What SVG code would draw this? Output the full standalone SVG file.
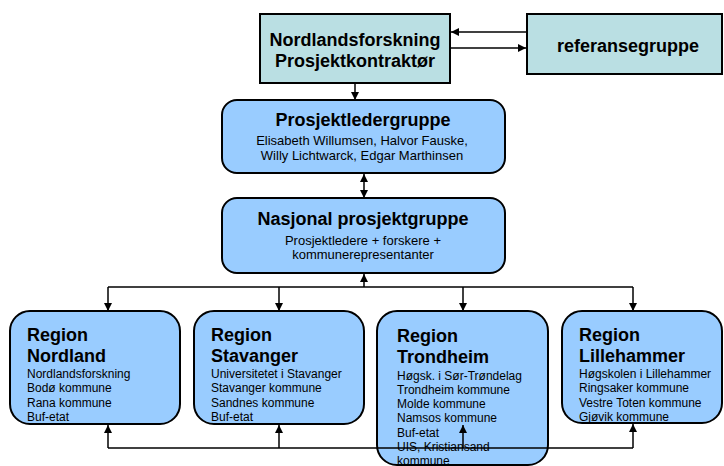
<svg xmlns="http://www.w3.org/2000/svg" width="724" height="466" viewBox="0 0 724 466">
<defs>
<style>
.top{fill:#BADFE3;stroke:#000;stroke-width:2}
.rnd{fill:#99CCFF;stroke:#000;stroke-width:2}
.t{font-family:"Liberation Sans",Arial,sans-serif;fill:#000}
.b{font-weight:bold;font-size:18px}
.s{font-size:13px}
.r{font-size:12px}
.ln{fill:none;stroke:#000;stroke-width:1.5}
</style>
<marker id="ah" viewBox="0 0 10 10" refX="10" refY="5" markerWidth="8" markerHeight="8" markerUnits="userSpaceOnUse" orient="auto-start-reverse">
<path d="M0,0 L10,5 L0,10 z" fill="#000"/>
</marker>
</defs>
<rect width="724" height="466" fill="#fff"/>

<g id="connectors">
<line class="ln" x1="527" y1="32" x2="451" y2="32" marker-end="url(#ah)"/>
<line class="ln" x1="450" y1="48" x2="526" y2="48" marker-end="url(#ah)"/>
<line class="ln" x1="355" y1="83" x2="355" y2="100" marker-end="url(#ah)"/>
<line class="ln" x1="364" y1="174" x2="364" y2="198" marker-start="url(#ah)" marker-end="url(#ah)"/>
<line class="ln" x1="364" y1="287" x2="364" y2="274" marker-end="url(#ah)"/>
<polyline class="ln" points="108,287 633,287"/>
<line class="ln" x1="108" y1="287" x2="108" y2="311" marker-end="url(#ah)"/>
<line class="ln" x1="279" y1="287" x2="279" y2="311" marker-end="url(#ah)"/>
<line class="ln" x1="463" y1="287" x2="463" y2="311" marker-end="url(#ah)"/>
<line class="ln" x1="633" y1="287" x2="633" y2="311" marker-end="url(#ah)"/>
</g>

<g id="nordlandsforskning">
<rect class="top" x="260" y="14" width="190" height="69"/>
<text class="t b" x="355" y="46" text-anchor="middle">Nordlandsforskning</text>
<text class="t b" x="355" y="67" text-anchor="middle">Prosjektkontraktør</text>
</g>

<g id="referansegruppe">
<rect class="top" x="527" y="14" width="195" height="60"/>
<text class="t b" x="628" y="52" text-anchor="middle">referansegruppe</text>
</g>

<g id="prosjektledergruppe">
<rect class="rnd" x="222" y="100" width="283" height="73" rx="15"/>
<text class="t b" x="363" y="126" text-anchor="middle">Prosjektledergruppe</text>
<text class="t s" x="362" y="145" text-anchor="middle">Elisabeth Willumsen, Halvor Fauske,</text>
<text class="t s" x="362" y="160" text-anchor="middle">Willy Lichtwarck, Edgar Marthinsen</text>
</g>

<g id="nasjonal">
<rect class="rnd" x="222" y="198" width="283" height="75" rx="15"/>
<text class="t b" x="363" y="225" text-anchor="middle">Nasjonal prosjektgruppe</text>
<text class="t s" x="363" y="245" text-anchor="middle">Prosjektledere + forskere +</text>
<text class="t s" x="363" y="259" text-anchor="middle">kommunerepresentanter</text>
</g>

<g id="region-nordland">
<rect class="rnd" x="10" y="311" width="170" height="113" rx="20"/>
<text class="t b" x="27" y="341">Region</text>
<text class="t b" x="27" y="362">Nordland</text>
<text class="t r" x="27" y="378">Nordlandsforskning</text>
<text class="t r" x="27" y="392">Bodø kommune</text>
<text class="t r" x="27" y="407">Rana kommune</text>
<text class="t r" x="27" y="421">Buf-etat</text>
</g>

<g id="region-stavanger">
<rect class="rnd" x="194" y="311" width="170" height="113" rx="20"/>
<text class="t b" x="211" y="341">Region</text>
<text class="t b" x="211" y="362">Stavanger</text>
<text class="t r" x="211" y="378">Universitetet i Stavanger</text>
<text class="t r" x="211" y="392">Stavanger kommune</text>
<text class="t r" x="211" y="407">Sandnes kommune</text>
<text class="t r" x="211" y="421">Buf-etat</text>
</g>

<g id="region-trondheim">
<rect class="rnd" x="377" y="311" width="171" height="154" rx="20"/>
<text class="t b" x="397" y="342">Region</text>
<text class="t b" x="397" y="363">Trondheim</text>
<text class="t r" x="397" y="380">Høgsk. i Sør-Trøndelag</text>
<text class="t r" x="397" y="394">Trondheim kommune</text>
<text class="t r" x="397" y="408">Molde kommune</text>
<text class="t r" x="397" y="422">Namsos kommune</text>
<text class="t r" x="397" y="437">Buf-etat</text>
<text class="t r" x="397" y="451">UIS, Kristiansand</text>
<text class="t r" x="397" y="465">kommune</text>
</g>

<g id="region-lillehammer">
<rect class="rnd" x="562" y="311" width="160" height="112" rx="20"/>
<text class="t b" x="579" y="341">Region</text>
<text class="t b" x="579" y="362">Lillehammer</text>
<text class="t r" x="579" y="378">Høgskolen i Lillehammer</text>
<text class="t r" x="579" y="392">Ringsaker kommune</text>
<text class="t r" x="579" y="407">Vestre Toten kommune</text>
<text class="t r" x="579" y="421">Gjøvik kommune</text>
</g>

<g id="connectors-bottom">
<polyline class="ln" points="108,448 633,448"/>
<line class="ln" x1="108" y1="448" x2="108" y2="425" marker-end="url(#ah)"/>
<line class="ln" x1="279" y1="448" x2="279" y2="425" marker-end="url(#ah)"/>
<line class="ln" x1="463" y1="448" x2="463" y2="425" marker-end="url(#ah)"/>
<line class="ln" x1="633" y1="448" x2="633" y2="424" marker-end="url(#ah)"/>
</g>
</svg>
